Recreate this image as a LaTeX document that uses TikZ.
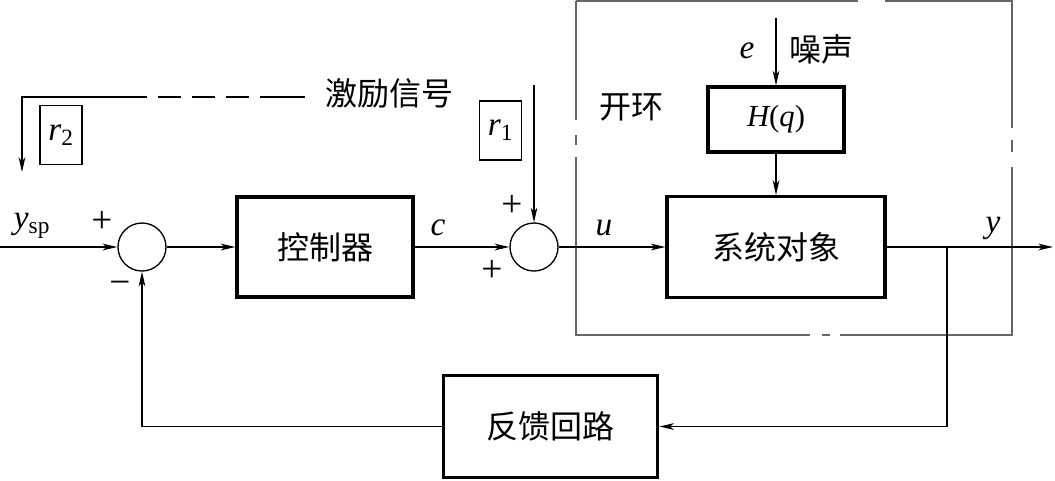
\documentclass[tikz,border=0pt]{standalone}
\usepackage{fontspec}
\setmainfont{Liberation Serif}
\newfontfamily\cjk{Noto Sans CJK SC}
\usetikzlibrary{arrows.meta}
\begin{document}
\begin{tikzpicture}[x=0.75pt,y=-0.75pt,
  cn/.style={font=\fontsize{24}{28}\selectfont\cjk},
  mth/.style={font=\fontsize{25}{29}\selectfont\itshape},
  sgn/.style={font=\fontsize{28}{32}\selectfont},
  blk/.style={draw,line width=2.3pt,inner sep=0pt},
  sum/.style={draw,circle,line width=1pt,minimum size=36pt,inner sep=0pt},
  sig/.style={draw,line width=1.1pt,inner sep=0pt,minimum width=31.5pt,minimum height=44.5pt,font=\fontsize{25}{29}\selectfont\itshape},
  lnk/.style={line width=1.4pt,-{Stealth[length=11pt,width=5pt,inset=3pt]}},
  lite/.style={line width=0.9pt},
  frame/.style={line width=1pt,black!60}]
\useasboundingbox (0,0) rectangle (1055,480);
\node[sum] (s1) at (142,247) {};
\node[blk,minimum width=132pt,minimum height=75pt,cn] (ctrl) at (325,247) {控制器};
\node[sum] (s2) at (534,247) {};
\node[blk,minimum width=163.5pt,minimum height=75.75pt,cn] (plant) at (776,247) {系统对象};
\node[blk,minimum width=102pt,minimum height=48.75pt,font=\fontsize{23}{27}\selectfont\itshape] (hq) at (776,119.5) {H{\upshape(}q{\upshape)}};
\node[blk,minimum width=161pt,minimum height=77pt,cn] (fb) at (550.5,426.5) {反馈回路};
\node[sig] (r2) at (61,135) {r\textsubscript{\upshape 2}};
\node[sig] (r1) at (500.5,130.5) {r\textsubscript{\upshape 1}};
\coordinate (in) at (0,247);
\coordinate (out) at (1053,247);
\coordinate (tap) at (947,247);
\coordinate (r1top) at (534,85);
\coordinate (etop) at (776,18);
\coordinate (exc) at (305,97);
\coordinate (dsh) at (260,97);
\coordinate (r2mid) at (147,97);
\coordinate (r2bend) at (22,97);
\coordinate (r2end) at (22,172);
\draw[frame] (576,1) -- (858,1) (885,1) -- (1012,1) -- (1012,128) (1012,140) -- (1012,152)
  (1012,167) -- (1012,335) -- (840,335) (830,335) -- (822,335) (810,335) -- (576,335) -- (576,157)
  (576,145) -- (576,135) (576,120) -- (576,1);
\draw[lnk] (in) -- (s1);
\draw[lnk] (s1) -- (ctrl);
\draw[lnk] (ctrl) -- (s2);
\draw[lnk,lite] (r1top) -- (s2);
\draw[lnk,lite] (s2) -- (plant);
\draw[lnk,lite] (etop) -- (hq);
\draw[lnk,lite] (hq) -- (plant);
\draw[lnk,lite] (plant) -- (out);
\draw[lnk,lite] (tap) |- (fb);
\draw[lnk] (fb) -| (s1);
\draw[lite,dash pattern=on 17.25pt off 8.25pt,dash phase=17.25pt] (r2mid) -- (dsh);
\draw[lite] (dsh) -- (exc);
\draw[lnk,lite] (r2mid) -- (r2bend) -- (r2end);
\node[cn] (exclbl) at (389,93) {激励信号};
\node[mth] (ysp) at (32,226) {y\textsubscript{\upshape sp}};
\node[sgn] (p1) at (102,222) {+};
\node[sgn] (m1) at (120,288) {−};
\node[mth] (clbl) at (438,228) {c};
\node[sgn] (p2) at (512,206) {+};
\node[sgn] (p3) at (492,271) {+};
\node[mth] (ulbl) at (604,228) {u};
\node[mth] (ylbl) at (993,228) {y};
\node[mth] (elbl) at (747,51) {e};
\node[cn] (noise) at (821,49) {噪声};
\node[cn] (open) at (631,107) {开环};
\end{tikzpicture}
\end{document}
